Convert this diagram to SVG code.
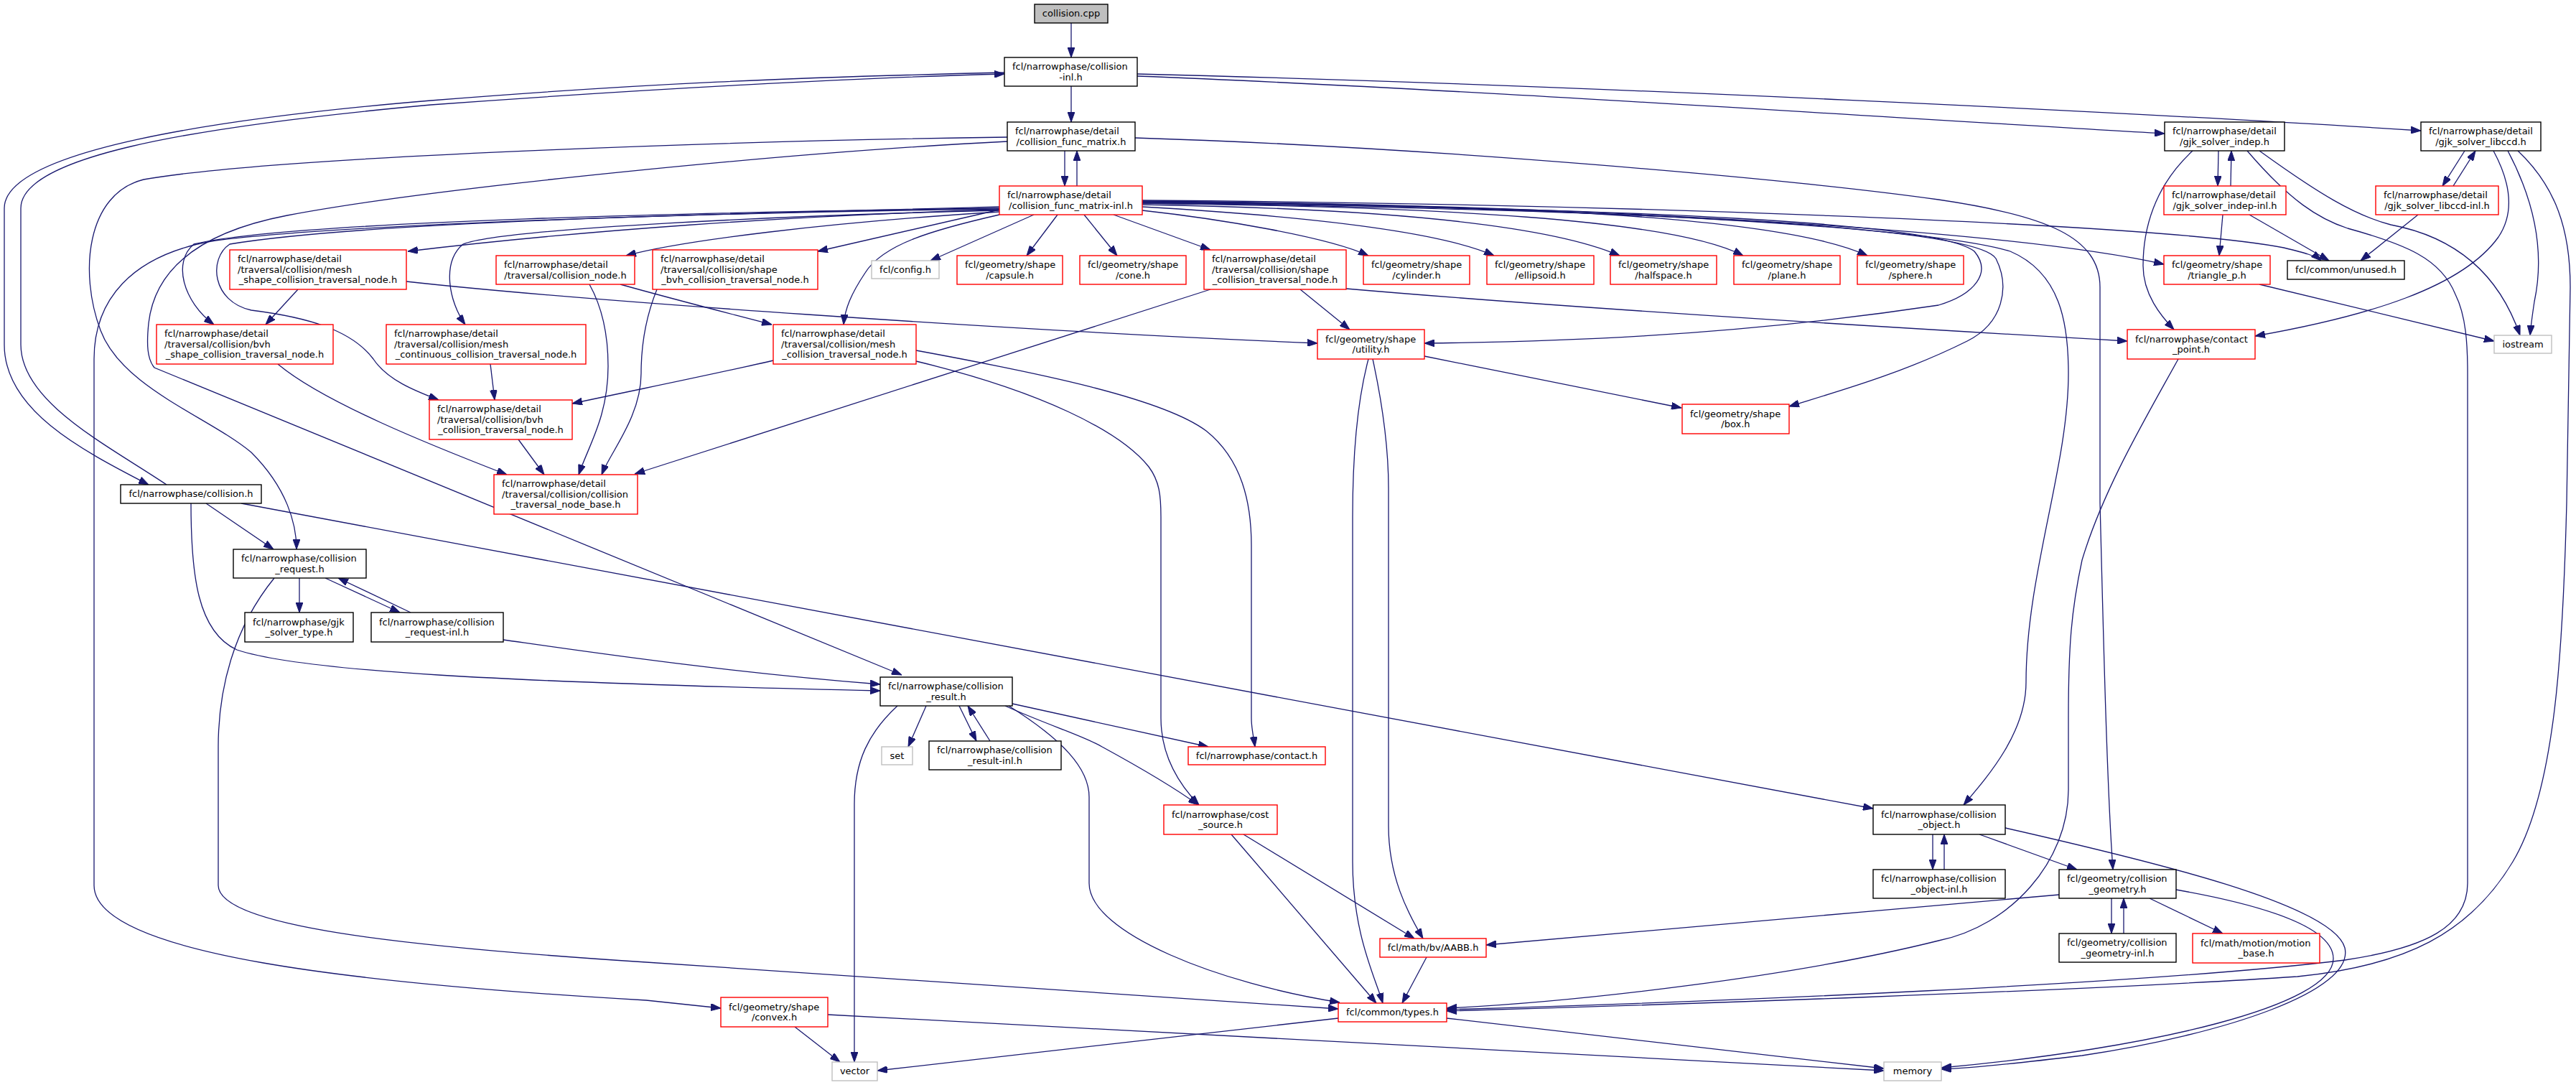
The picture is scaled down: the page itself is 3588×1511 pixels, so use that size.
<svg xmlns="http://www.w3.org/2000/svg" width="3588" height="1511" viewBox="0 0 3588 1511">
<style>
rect{fill:#fff;stroke-width:1.4}
.k{stroke:#000}.r{stroke:#f00}.g{stroke:#bfbfbf}.s{fill:#bfbfbf;stroke:#000}
text{font-family:"DejaVu Sans","Liberation Sans",sans-serif;font-size:13px;fill:#000}
.m{text-anchor:middle}
#edges path{fill:none;stroke:#191970;stroke-width:1.3;marker-end:url(#ah)}
</style>
<defs>
<marker id="ah" viewBox="0 0 14 10" refX="14" refY="5" markerWidth="14" markerHeight="10" markerUnits="userSpaceOnUse" orient="auto"><path d="M0,0L14,5L0,10z" fill="#191970" stroke="#191970" stroke-width="1"/></marker>
</defs>
<rect x="0" y="0" width="3588" height="1511" style="fill:#fff;stroke:none"/>
<g id="edges">
<path d="M1492,32 L1492,80"/>
<path d="M1492,120 L1492,170"/>
<path d="M1584,106 C2000,122 2600,162 3015,186"/>
<path d="M1584,103 C2200,118 3000,158 3372,182"/>
<path d="M1399,101 C1100,108 900,116 600,140 C300,165 6,210 6,290 L6,480 C6,570 110,625 207,675"/>
<path d="M232,675 C150,620 29,560 29,480 L29,290 C29,220 250,178 600,146 C900,124 1200,108 1399,103"/>
<path d="M1483,210 L1483,259"/>
<path d="M1500,259 L1500,210"/>
<path d="M1403,191 C1100,195 400,215 200,250 C120,270 110,380 140,460 C170,540 290,580 350,630 C400,680 413,730 413,765"/>
<path d="M1403,197 C1100,212 600,262 400,300 C270,325 215,380 207,450 C204,480 205,500 215,512 L1256,940"/>
<path d="M287,701 L381,765"/>
<path d="M336,701 L2609,1126"/>
<path d="M266,701 C266,800 275,880 330,905 C420,935 700,950 1226,962"/>
<path d="M417,805 L417,853"/>
<path d="M453,805 L557,853"/>
<path d="M572,853 L471,805"/>
<path d="M382,805 C325,875 304,960 304,1040 L304,1233 C304,1290 560,1318 900,1340 L1864,1405"/>
<path d="M701,891 C800,905 1000,935 1226,953"/>
<path d="M1392,288 C1000,298 500,310 300,335 C180,355 131,420 131,500 L131,1233 C131,1330 500,1370 900,1393 L1004,1404"/>
<path d="M1392,292 C1100,300 800,322 568,350"/>
<path d="M1392,295 C1150,310 950,335 872,356"/>
<path d="M1392,292 L1139,350"/>
<path d="M1392,290 C1000,295 400,308 270,340 C240,365 255,420 298,452"/>
<path d="M1392,293 C1100,300 700,318 645,340 C615,365 625,420 648,452"/>
<path d="M1392,291 C1000,296 500,310 320,340 C290,360 295,420 350,432 C430,442 490,460 520,500 C540,530 580,545 611,557"/>
<path d="M1392,299 C1300,320 1230,340 1205,380 C1185,410 1177,430 1175,452"/>
<path d="M1440,299 L1296,363"/>
<path d="M1473,299 L1430,356"/>
<path d="M1510,299 L1556,356"/>
<path d="M1551,299 L1686,348"/>
<path d="M1591,293 C1700,305 1850,330 1906,356"/>
<path d="M1591,288 C1800,300 2000,320 2081,356"/>
<path d="M1591,285 C1900,290 2150,310 2256,356"/>
<path d="M1591,283 C2000,288 2330,305 2428,356"/>
<path d="M1591,281 C2100,285 2480,300 2601,356"/>
<path d="M1591,279 C2200,283 3000,310 3181,345 C3210,352 3225,356 3233,363"/>
<path d="M1591,280 C2200,285 2800,320 3014,368"/>
<path d="M1591,281 C2300,290 2700,320 2800,350 C2870,380 2881,450 2881,520 C2881,650 2822,800 2822,950 C2822,1020 2770,1080 2735,1121"/>
<path d="M1591,282 C2300,290 2700,310 2750,350 C2775,380 2750,410 2700,425 C2400,470 2150,476 1984,478"/>
<path d="M1591,283 C2300,292 2750,315 2780,360 C2800,400 2790,450 2740,475 C2650,520 2560,545 2492,566"/>
<path d="M415,403 L370,452"/>
<path d="M566,392 C800,418 1400,460 1835,478"/>
<path d="M387,507 C450,560 600,620 706,661"/>
<path d="M683,507 L689,557"/>
<path d="M722,612 L758,661"/>
<path d="M1811,403 L1880,459"/>
<path d="M1875,402 C2200,430 2700,460 2963,475"/>
<path d="M1686,403 L884,660"/>
<path d="M864,396 C950,420 1030,440 1075,452"/>
<path d="M821,396 C840,430 847,470 847,510 C847,580 820,620 806,661"/>
<path d="M915,403 C900,440 893,480 893,520 C893,580 850,630 838,661"/>
<path d="M1077,502 C1000,520 900,540 797,562"/>
<path d="M1276,488 C1450,520 1620,555 1680,600 C1730,640 1743,700 1743,760 L1743,1000 C1743,1015 1746,1025 1748,1040"/>
<path d="M1276,503 C1450,545 1560,600 1600,650 C1615,670 1617,690 1617,720 L1617,1000 C1617,1050 1640,1090 1670,1121"/>
<path d="M1290,983 L1265,1040"/>
<path d="M1336,983 L1360,1032"/>
<path d="M1379,1032 L1348,983"/>
<path d="M1250,983 C1210,1020 1190,1060 1190,1120 L1190,1479"/>
<path d="M1400,983 C1460,1010 1510,1025 1535,1040 C1590,1070 1640,1100 1669,1121"/>
<path d="M1410,980 L1683,1040"/>
<path d="M1405,983 C1480,1030 1517,1070 1517,1110 L1517,1230 C1517,1300 1700,1370 1866,1396"/>
<path d="M1715,1162 L1917,1397"/>
<path d="M1732,1162 L1970,1307"/>
<path d="M1906,500 C1890,560 1884,640 1884,720 L1884,1200 C1884,1300 1915,1360 1926,1397"/>
<path d="M1912,500 C1925,560 1934,620 1934,680 L1934,1150 C1934,1220 1960,1270 1982,1307"/>
<path d="M1984,496 L2342,568"/>
<path d="M1987,1333 L1953,1397"/>
<path d="M1864,1418 L1222,1491"/>
<path d="M2015,1418 L2624,1488"/>
<path d="M1107,1430 L1170,1479"/>
<path d="M1153,1413 L2624,1491"/>
<path d="M2692,1162 L2692,1211"/>
<path d="M2708,1211 L2708,1162"/>
<path d="M2757,1162 L2893,1211"/>
<path d="M2793,1153 C3000,1200 3250,1260 3266,1320 C3280,1380 3100,1440 2900,1470 C2800,1482 2730,1488 2704,1489"/>
<path d="M3031,1239 C3150,1260 3250,1290 3250,1335 C3250,1400 3000,1460 2704,1487"/>
<path d="M2941,1251 L2941,1300"/>
<path d="M2958,1300 L2958,1251"/>
<path d="M2994,1251 L3096,1300"/>
<path d="M2868,1246 L2070,1316"/>
<path d="M3034,500 C2990,580 2930,680 2900,780 C2885,850 2881,900 2881,1000 L2881,1100 C2881,1200 2800,1290 2700,1310 C2500,1360 2200,1395 2015,1404"/>
<path d="M3130,210 C3190,280 3230,305 3270,318 C3350,340 3400,360 3420,410 C3435,440 3437,480 3437,520 L3437,1230 C3437,1290 3380,1320 3266,1337 C3000,1370 2400,1395 2015,1406"/>
<path d="M3507,210 C3560,260 3580,320 3580,400 L3575,700 C3570,900 3560,1100 3500,1200 C3440,1300 3350,1345 3200,1360 C2900,1380 2300,1400 2015,1408"/>
<path d="M3090,210 L3089,259"/>
<path d="M3107,259 L3108,210"/>
<path d="M3054,210 C3000,260 2985,320 2985,370 C2985,410 3010,440 3028,459"/>
<path d="M3147,210 C3230,270 3280,300 3330,313 C3420,330 3480,380 3510,467"/>
<path d="M3433,210 L3402,259"/>
<path d="M3417,259 L3448,210"/>
<path d="M3473,210 C3500,260 3500,300 3480,330 C3430,400 3300,440 3141,468"/>
<path d="M3493,210 C3530,280 3545,350 3530,420 C3527,440 3525,455 3524,467"/>
<path d="M3096,299 L3091,356"/>
<path d="M3133,299 L3244,363"/>
<path d="M3368,299 L3288,363"/>
<path d="M3147,396 L3474,475"/>
<path d="M1581,192 C2000,205 2500,250 2700,278 C2850,300 2925,330 2925,400 L2925,700 C2930,900 2935,1100 2943,1211"/>
</g>
<g id="n_collision_cpp"><rect class="s" x="1441" y="6" width="102" height="26"/><text class="m" x="1492" y="23.2">collision.cpp</text></g>
<g id="n_collision_inl"><rect class="k" x="1399" y="80" width="185" height="40"/><text x="1410" y="97">fcl/narrowphase/collision</text><text class="m" x="1491.5" y="111.5">-inl.h</text></g>
<g id="n_cfm"><rect class="k" x="1403" y="170" width="178" height="40"/><text x="1414" y="187">fcl/narrowphase/detail</text><text class="m" x="1492" y="201.5">/collision_func_matrix.h</text></g>
<g id="n_cfm_inl"><rect class="r" x="1392" y="259" width="199" height="40"/><text x="1403" y="276">fcl/narrowphase/detail</text><text class="m" x="1491.5" y="290.5">/collision_func_matrix-inl.h</text></g>
<g id="n_gjk_indep"><rect class="k" x="3015" y="170" width="167" height="40"/><text x="3026" y="187">fcl/narrowphase/detail</text><text class="m" x="3098.5" y="201.5">/gjk_solver_indep.h</text></g>
<g id="n_gjk_libccd"><rect class="k" x="3372" y="170" width="167" height="40"/><text x="3383" y="187">fcl/narrowphase/detail</text><text class="m" x="3455.5" y="201.5">/gjk_solver_libccd.h</text></g>
<g id="n_gjk_indep_inl"><rect class="r" x="3014" y="259" width="170" height="40"/><text x="3025" y="276">fcl/narrowphase/detail</text><text class="m" x="3099" y="290.5">/gjk_solver_indep-inl.h</text></g>
<g id="n_gjk_libccd_inl"><rect class="r" x="3309" y="259" width="171" height="40"/><text x="3320" y="276">fcl/narrowphase/detail</text><text class="m" x="3394.5" y="290.5">/gjk_solver_libccd-inl.h</text></g>
<g id="n_mesh_shape"><rect class="r" x="320" y="348" width="246" height="55"/><text x="331" y="365.2">fcl/narrowphase/detail</text><text x="331" y="379.7">/traversal/collision/mesh</text><text class="m" x="443" y="394.2">_shape_collision_traversal_node.h</text></g>
<g id="n_collision_node"><rect class="r" x="691" y="356" width="193" height="40"/><text x="702" y="373">fcl/narrowphase/detail</text><text class="m" x="787.5" y="387.5">/traversal/collision_node.h</text></g>
<g id="n_shape_bvh"><rect class="r" x="909" y="348" width="230" height="55"/><text x="920" y="365.2">fcl/narrowphase/detail</text><text x="920" y="379.7">/traversal/collision/shape</text><text class="m" x="1024" y="394.2">_bvh_collision_traversal_node.h</text></g>
<g id="n_config"><rect class="g" x="1214" y="363" width="94" height="25"/><text class="m" x="1261" y="379.7">fcl/config.h</text></g>
<g id="n_capsule"><rect class="r" x="1333" y="356" width="147" height="40"/><text x="1344" y="373">fcl/geometry/shape</text><text class="m" x="1406.5" y="387.5">/capsule.h</text></g>
<g id="n_cone"><rect class="r" x="1504" y="356" width="148" height="40"/><text x="1515" y="373">fcl/geometry/shape</text><text class="m" x="1578" y="387.5">/cone.h</text></g>
<g id="n_shape_coll"><rect class="r" x="1677" y="348" width="198" height="55"/><text x="1688" y="365.2">fcl/narrowphase/detail</text><text x="1688" y="379.7">/traversal/collision/shape</text><text class="m" x="1776" y="394.2">_collision_traversal_node.h</text></g>
<g id="n_cylinder"><rect class="r" x="1899" y="356" width="148" height="40"/><text x="1910" y="373">fcl/geometry/shape</text><text class="m" x="1973" y="387.5">/cylinder.h</text></g>
<g id="n_ellipsoid"><rect class="r" x="2071" y="356" width="149" height="40"/><text x="2082" y="373">fcl/geometry/shape</text><text class="m" x="2145.5" y="387.5">/ellipsoid.h</text></g>
<g id="n_halfspace"><rect class="r" x="2243" y="356" width="148" height="40"/><text x="2254" y="373">fcl/geometry/shape</text><text class="m" x="2317" y="387.5">/halfspace.h</text></g>
<g id="n_plane"><rect class="r" x="2415" y="356" width="148" height="40"/><text x="2426" y="373">fcl/geometry/shape</text><text class="m" x="2489" y="387.5">/plane.h</text></g>
<g id="n_sphere"><rect class="r" x="2587" y="356" width="148" height="40"/><text x="2598" y="373">fcl/geometry/shape</text><text class="m" x="2661" y="387.5">/sphere.h</text></g>
<g id="n_triangle_p"><rect class="r" x="3014" y="356" width="148" height="40"/><text x="3025" y="373">fcl/geometry/shape</text><text class="m" x="3088" y="387.5">/triangle_p.h</text></g>
<g id="n_unused"><rect class="k" x="3186" y="363" width="163" height="26"/><text class="m" x="3267.5" y="380.2">fcl/common/unused.h</text></g>
<g id="n_bvh_shape"><rect class="r" x="218" y="452" width="246" height="55"/><text x="229" y="469.2">fcl/narrowphase/detail</text><text x="229" y="483.7">/traversal/collision/bvh</text><text class="m" x="341" y="498.2">_shape_collision_traversal_node.h</text></g>
<g id="n_mesh_cont"><rect class="r" x="538" y="452" width="278" height="55"/><text x="549" y="469.2">fcl/narrowphase/detail</text><text x="549" y="483.7">/traversal/collision/mesh</text><text class="m" x="677" y="498.2">_continuous_collision_traversal_node.h</text></g>
<g id="n_mesh_coll"><rect class="r" x="1077" y="452" width="199" height="55"/><text x="1088" y="469.2">fcl/narrowphase/detail</text><text x="1088" y="483.7">/traversal/collision/mesh</text><text class="m" x="1176.5" y="498.2">_collision_traversal_node.h</text></g>
<g id="n_utility"><rect class="r" x="1835" y="459" width="149" height="41"/><text x="1846" y="476.5">fcl/geometry/shape</text><text class="m" x="1909.5" y="491">/utility.h</text></g>
<g id="n_contact_point"><rect class="r" x="2963" y="459" width="178" height="41"/><text x="2974" y="476.5">fcl/narrowphase/contact</text><text class="m" x="3052" y="491">_point.h</text></g>
<g id="n_iostream"><rect class="g" x="3474" y="467" width="80" height="25"/><text class="m" x="3514" y="483.7">iostream</text></g>
<g id="n_bvh_coll"><rect class="r" x="598" y="557" width="199" height="55"/><text x="609" y="574.2">fcl/narrowphase/detail</text><text x="609" y="588.7">/traversal/collision/bvh</text><text class="m" x="697.5" y="603.2">_collision_traversal_node.h</text></g>
<g id="n_box"><rect class="r" x="2343" y="563" width="149" height="41"/><text x="2354" y="580.5">fcl/geometry/shape</text><text class="m" x="2417.5" y="595">/box.h</text></g>
<g id="n_base"><rect class="r" x="688" y="661" width="200" height="55"/><text x="699" y="678.2">fcl/narrowphase/detail</text><text x="699" y="692.7">/traversal/collision/collision</text><text class="m" x="788" y="707.2">_traversal_node_base.h</text></g>
<g id="n_collision_h"><rect class="k" x="168" y="675" width="196" height="26"/><text class="m" x="266" y="692.2">fcl/narrowphase/collision.h</text></g>
<g id="n_request"><rect class="k" x="325" y="765" width="185" height="40"/><text x="336" y="782">fcl/narrowphase/collision</text><text class="m" x="417.5" y="796.5">_request.h</text></g>
<g id="n_gjk_type"><rect class="k" x="341" y="853" width="151" height="41"/><text x="352" y="870.5">fcl/narrowphase/gjk</text><text class="m" x="416.5" y="885">_solver_type.h</text></g>
<g id="n_request_inl"><rect class="k" x="517" y="853" width="184" height="41"/><text x="528" y="870.5">fcl/narrowphase/collision</text><text class="m" x="609" y="885">_request-inl.h</text></g>
<g id="n_result"><rect class="k" x="1226" y="943" width="184" height="40"/><text x="1237" y="960">fcl/narrowphase/collision</text><text class="m" x="1318" y="974.5">_result.h</text></g>
<g id="n_set"><rect class="g" x="1228" y="1040" width="43" height="25"/><text class="m" x="1249.5" y="1056.7">set</text></g>
<g id="n_result_inl"><rect class="k" x="1294" y="1032" width="184" height="40"/><text x="1305" y="1049">fcl/narrowphase/collision</text><text class="m" x="1386" y="1063.5">_result-inl.h</text></g>
<g id="n_contact"><rect class="r" x="1655" y="1040" width="191" height="25"/><text class="m" x="1750.5" y="1056.7">fcl/narrowphase/contact.h</text></g>
<g id="n_cost_source"><rect class="r" x="1621" y="1121" width="158" height="41"/><text x="1632" y="1138.5">fcl/narrowphase/cost</text><text class="m" x="1700" y="1153">_source.h</text></g>
<g id="n_object"><rect class="k" x="2609" y="1121" width="184" height="41"/><text x="2620" y="1138.5">fcl/narrowphase/collision</text><text class="m" x="2701" y="1153">_object.h</text></g>
<g id="n_object_inl"><rect class="k" x="2609" y="1211" width="184" height="40"/><text x="2620" y="1228">fcl/narrowphase/collision</text><text class="m" x="2701" y="1242.5">_object-inl.h</text></g>
<g id="n_geometry"><rect class="k" x="2868" y="1211" width="163" height="40"/><text x="2879" y="1228">fcl/geometry/collision</text><text class="m" x="2949.5" y="1242.5">_geometry.h</text></g>
<g id="n_geometry_inl"><rect class="k" x="2868" y="1300" width="163" height="40"/><text x="2879" y="1317">fcl/geometry/collision</text><text class="m" x="2949.5" y="1331.5">_geometry-inl.h</text></g>
<g id="n_motion_base"><rect class="r" x="3054" y="1300" width="177" height="41"/><text x="3065" y="1317.5">fcl/math/motion/motion</text><text class="m" x="3142.5" y="1332">_base.h</text></g>
<g id="n_aabb"><rect class="r" x="1922" y="1307" width="148" height="26"/><text class="m" x="1996" y="1324.2">fcl/math/bv/AABB.h</text></g>
<g id="n_convex"><rect class="r" x="1004" y="1389" width="149" height="41"/><text x="1015" y="1406.5">fcl/geometry/shape</text><text class="m" x="1078.5" y="1421">/convex.h</text></g>
<g id="n_types"><rect class="r" x="1864" y="1397" width="151" height="26"/><text class="m" x="1939.5" y="1414.2">fcl/common/types.h</text></g>
<g id="n_vector"><rect class="g" x="1159" y="1479" width="63" height="26"/><text class="m" x="1190.5" y="1496.2">vector</text></g>
<g id="n_memory"><rect class="g" x="2624" y="1479" width="80" height="26"/><text class="m" x="2664" y="1496.2">memory</text></g>
</svg>
